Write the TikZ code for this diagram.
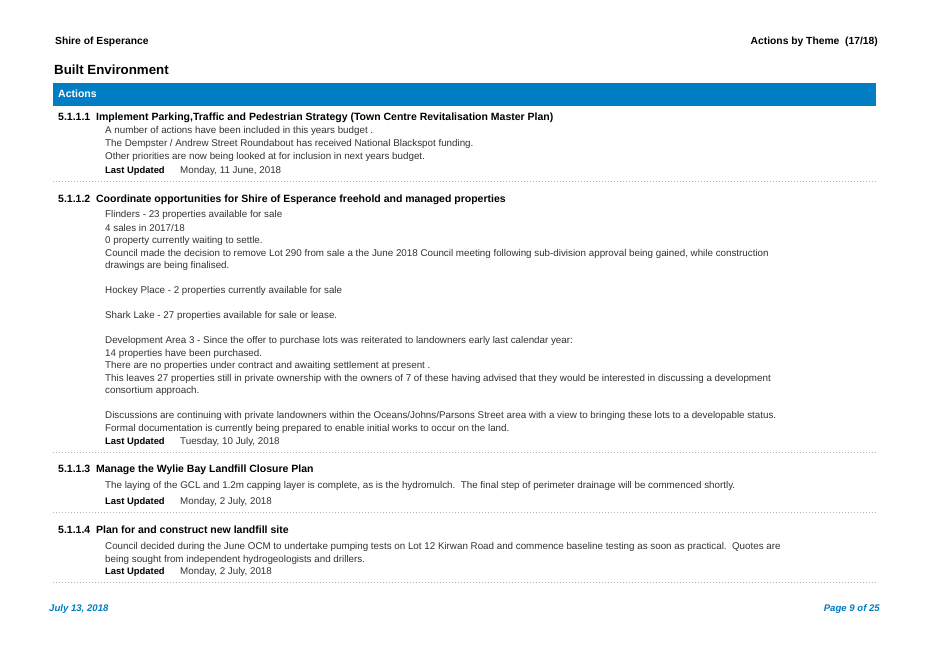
\documentclass[tikz,border=0pt]{standalone}
\usepackage{fontspec}
\setmainfont{Liberation Sans}
\definecolor{barblue}{RGB}{0,125,195}
\begin{document}
\begin{tikzpicture}[x=1pt, y=-1pt, inner sep=0pt,
    body/.style={anchor=west, font=\fontsize{9.8}{11}\selectfont, text=black!80},
    head/.style={anchor=west, font=\fontsize{10.5}{12}\selectfont\bfseries},
    lu/.style={anchor=west, font=\fontsize{9.4}{11}\selectfont\bfseries},
    sep/.style={gray!60, line width=0.5pt, dash pattern=on 0.5pt off 2.5pt}]

  % --- PAGE ---
  \useasboundingbox[fill=white] (0,0) rectangle (928,657);

  % --- HEADER ---
  \node[head, font=\fontsize{10.3}{12}\selectfont\bfseries] (shire) at (55,42) {Shire of Esperance};
  \node[head, anchor=east, font=\fontsize{10.3}{12}\selectfont\bfseries] (theme) at (878,42) {Actions by Theme\ \ (17/18)};
  \node[anchor=west, font=\fontsize{13.3}{15}\selectfont\bfseries] (built) at (54,70) {Built Environment};
  \fill[barblue] (53,83) rectangle (876,106);
  \node[head, text=white] (actions) at (58,94) {Actions};

  % --- 5.1.1.1 ---
  \node[head] (n1) at (58,118) {5.1.1.1\ \ Implement Parking,Traffic and Pedestrian Strategy (Town Centre Revitalisation Master Plan)};
  \foreach \y/\t in {131/{A number of actions have been included in this years budget .},
                     144/{The Dempster / Andrew Street Roundabout has received National Blackspot funding.},
                     157/{Other priorities are now being looked at for inclusion in next years budget.}}
    \node[body] at (105,\y) {\t};
  \node[lu] (lu1) at (105,171) {Last Updated};
  \node[body] (d1) at (180,171) {Monday, 11 June, 2018};
  \draw[sep] (53,181) -- (876,181);

  % --- 5.1.1.2 ---
  \node[head] (n2) at (58,200) {5.1.1.2\ \ Coordinate opportunities for Shire of Esperance freehold and managed properties};
  \foreach \y/\t in {215/{Flinders - 23 properties available for sale},
                     228/{4 sales in 2017/18},
                     241/{0 property currently waiting to settle.},
                     254/{Council made the decision to remove Lot 290 from sale a the June 2018 Council meeting following sub-division approval being gained, while construction},
                     266/{drawings are being finalised.},
                     291/{Hockey Place - 2 properties currently available for sale},
                     316/{Shark Lake - 27 properties available for sale or lease.},
                     341/{Development Area 3 - Since the offer to purchase lots was reiterated to landowners early last calendar year:},
                     354/{14 properties have been purchased.},
                     366/{There are no properties under contract and awaiting settlement at present .},
                     379/{This leaves 27 properties still in private ownership with the owners of 7 of these having advised that they would be interested in discussing a development},
                     391/{consortium approach.},
                     416/{Discussions are continuing with private landowners within the Oceans/Johns/Parsons Street area with a view to bringing these lots to a developable status.},
                     429/{Formal documentation is currently being prepared to enable initial works to occur on the land.}}
    \node[body] at (105,\y) {\t};
  \node[lu] (lu2) at (105,442) {Last Updated};
  \node[body] (d2) at (180,442) {Tuesday, 10 July, 2018};
  \draw[sep] (53,452) -- (876,452);

  % --- 5.1.1.3 ---
  \node[head] (n3) at (58,470) {5.1.1.3\ \ Manage the Wylie Bay Landfill Closure Plan};
  \node[body] at (105,486) {The laying of the GCL and 1.2m capping layer is complete, as is the hydromulch.\ \ The final step of perimeter drainage will be commenced shortly.};
  \node[lu] (lu3) at (105,502) {Last Updated};
  \node[body] (d3) at (180,502) {Monday, 2 July, 2018};
  \draw[sep] (53,512) -- (876,512);

  % --- 5.1.1.4 ---
  \node[head] (n4) at (58,530) {5.1.1.4\ \ Plan for and construct new landfill site};
  \node[body] at (105,547) {Council decided during the June OCM to undertake pumping tests on Lot 12 Kirwan Road and commence baseline testing as soon as practical.\ \ Quotes are};
  \node[body] at (105,560) {being sought from independent hydrogeologists and drillers.};
  \node[lu] (lu4) at (105,572) {Last Updated};
  \node[body] (d4) at (180,572) {Monday, 2 July, 2018};
  \draw[sep] (53,582) -- (876,582);

  % --- FOOTER ---
  \node[lu, text=barblue, font=\fontsize{9.6}{11}\selectfont\bfseries\itshape] (date) at (49,609) {July 13, 2018};
  \node[lu, anchor=east, text=barblue, font=\fontsize{9.6}{11}\selectfont\bfseries\itshape] (page) at (880,609) {Page 9 of 25};
\end{tikzpicture}
\end{document}
